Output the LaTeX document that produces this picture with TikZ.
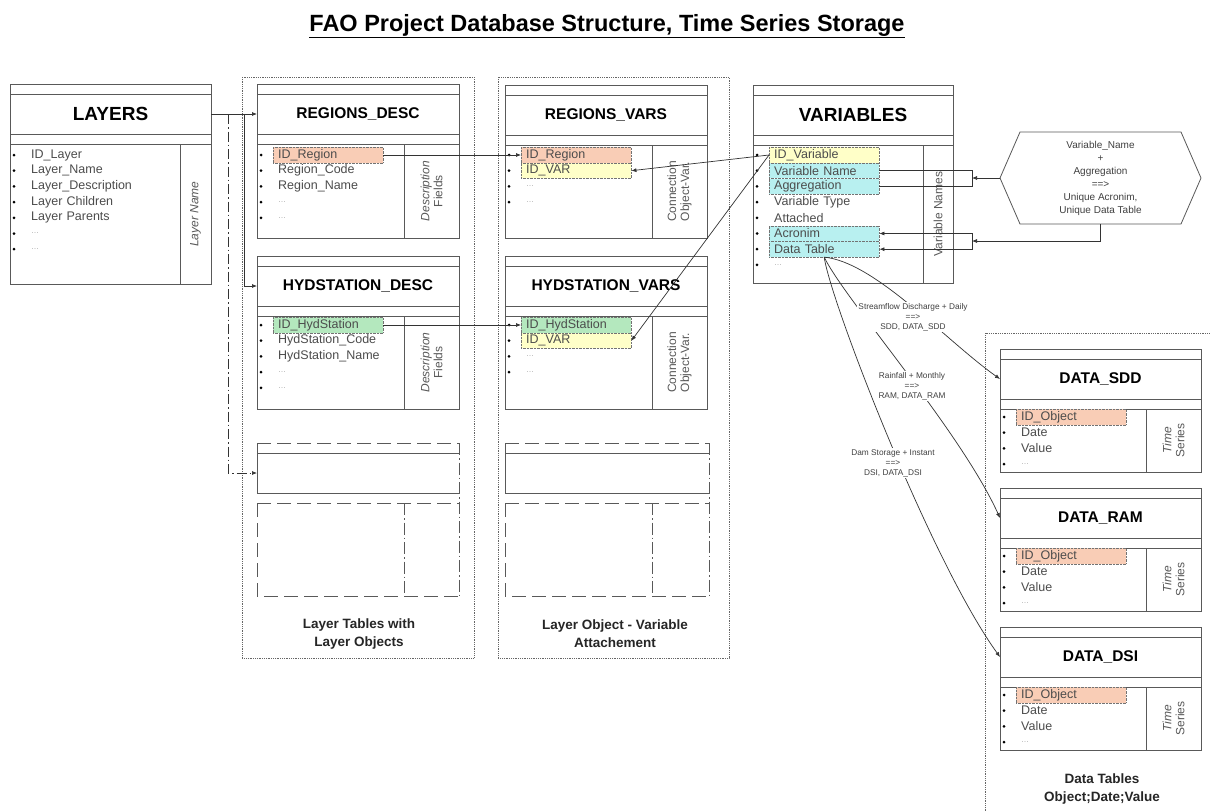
\documentclass[tikz,border=0pt]{standalone}
\usepackage{fontspec}
\setmainfont{Liberation Sans}
\usetikzlibrary{arrows.meta,shapes.symbols}

\definecolor{cred}{HTML}{F9CDB6}
\definecolor{cyel}{HTML}{FFFFC8}
\definecolor{cgrn}{HTML}{B4E8BE}
\definecolor{ccyan}{HTML}{B8F0F0}

\tikzset{
  tabline/.style={line width=1pt,draw=black!65},
  tabtitle/.style={font=\bfseries\fontsize{15.5}{18}\selectfont},
  bigtitle/.style={font=\bfseries\fontsize{19}{22}\selectfont},
  coltext/.style={rotate=90,align=center,text=black!65,font=\fontsize{12}{13}\selectfont},
  item/.style={anchor=west,inner xsep=5pt,inner ysep=0pt,text width=100pt,align=left,
    minimum height=15.5pt,text=black!70,font=\fontsize{12.5}{14}\selectfont},
  plain/.style={},
  dim/.style={text=black!35,font=\fontsize{8}{9}\selectfont},
  hl/.style={fill=#1,draw=black!55,densely dotted},
  hlred/.style={hl=cred},
  hlyel/.style={hl=cyel},
  hlgrn/.style={hl=cgrn},
  hlcyan/.style={hl=ccyan},
  arr/.style={-{Latex[length=5pt,width=4pt]},line width=0.7pt,draw=black!80},
  link/.style={line width=0.7pt,draw=black!80},
  groupbox/.style={densely dotted,line width=0.8pt,draw=black!60},
  longdash/.style={line width=1pt,draw=black!65,dash pattern=on 14pt off 6pt},
  dashdot/.style={line width=1pt,draw=black!65,dash pattern=on 12pt off 3pt on 1.5pt off 3pt},
  grouplab/.style={align=center,font=\bfseries\fontsize{13.5}{18}\selectfont,text=black!85},
  curvelab/.style={align=center,fill=white,inner sep=1pt,text=black!75,font=\fontsize{8.3}{10}\selectfont},
  hexbox/.style={shape=signal,signal to=west and east,signal pointer angle=133,draw=black!65,
    line width=0.8pt,minimum width=201pt,minimum height=92pt,inner sep=0pt,align=center,
    text=black!75,font=\fontsize{10}{13}\selectfont}
}

% table frame: [title style] name, left, top, right, bottom, divider, title, column text
\newcommand{\dbtable}[9][tabtitle]{%
  \draw[tabline] (#3,#4) rectangle (#5,#6);
  \draw[tabline] (#3,#4+10) -- (#5,#4+10) (#3,#4+50) -- (#5,#4+50)
    (#3,#4+60) -- (#5,#4+60) (#7,#4+60) -- (#7,#6);
  \node[#1] (#2) at ({(#3+#5)/2},#4+30) {#8};
  \node[coltext] (#2-col) at ({(#7+#5)/2},{(#4+60+#6)/2}) {#9};
  \coordinate (#2-w) at (#3,#4+30);
  \coordinate (#2-e) at (#5,#4+30);
}
% rows: name, left, first y, list of text/style
\newcommand{\tabrows}[4]{%
  \foreach \txt/\sty [count=\i] in {#4} {
    \fill[black] (#2+4,{#3+15.7*(\i-1)}) circle (1.5pt);
    \node[item,\sty] (#1-\i) at (#2+16,{#3+15.7*(\i-1)}) {\txt};
  }
}
% empty template table
\newcommand{\ghosttable}[3]{%
  \draw[longdash] (#1,443) -- (#2,443) (#1,503) -- (#2,503) (#1,443) -- (#1,453)
    (#1,503) -- (#1,596) -- (#2,596);
  \draw[tabline] (#1,453) -- (#2,453) (#1,493) -- (#2,493) (#1,453) -- (#1,493);
  \draw[dashdot] (#2,443) -- (#2,596) (#3,503) -- (#3,596);
}

\begin{document}
\begin{tikzpicture}[x=1pt,y=-1pt]
  \useasboundingbox[fill=white] (0,0) rectangle (1210,811);

  \node[font=\bfseries\fontsize{23.5}{26}\selectfont] (title) at (607,26)
    {\underline{FAO Project Database Structure, Time Series Storage}};

  % groups
  \draw[groupbox] (242,77) rectangle (474,658);
  \draw[groupbox] (498,77) rectangle (729,658);
  \draw[groupbox] (1215,333) -- (985,333) -- (985,815);
  \node[grouplab] (g1) at (359,634) {Layer Tables with\\Layer Objects};
  \node[grouplab] (g2) at (615,634) {Layer Object - Variable\\Attachement};
  \node[grouplab] (g3) at (1102,789) {Data Tables\\Object;Date;Value};

  % tables
  \dbtable[bigtitle]{ly}{10}{84}{211}{284}{180}{LAYERS}{\itshape Layer Name}
  \tabrows{ly}{10}{155}{ID\_Layer/plain, Layer\_Name/plain, Layer\_Description/plain,
    Layer Children/plain, Layer Parents/plain, \dots/dim, \dots/dim}

  \dbtable{rd}{257}{84}{459}{238}{404}{REGIONS\_DESC}{\itshape Description\\Fields}
  \tabrows{rd}{257}{155}{ID\_Region/hlred, Region\_Code/plain, Region\_Name/plain,
    \dots/dim, \dots/dim}

  \dbtable{hd}{257}{256}{459}{409}{404}{HYDSTATION\_DESC}{\itshape Description\\Fields}
  \tabrows{hd}{257}{325}{ID\_HydStation/hlgrn, HydStation\_Code/plain,
    HydStation\_Name/plain, \dots/dim, \dots/dim}

  \dbtable{rv}{505}{85}{707}{238}{652}{REGIONS\_VARS}{Connection\\Object-Var.}
  \tabrows{rv}{505}{155}{ID\_Region/hlred, ID\_VAR/hlyel, \dots/dim, \dots/dim}

  \dbtable{hv}{505}{256}{707}{409}{652}{HYDSTATION\_VARS}{Connection\\Object-Var.}
  \tabrows{hv}{505}{325}{ID\_HydStation/hlgrn, ID\_VAR/hlyel, \dots/dim, \dots/dim}

  \dbtable[bigtitle]{var}{753}{85}{953}{283}{923}{VARIABLES}{Variable Names}
  \tabrows{var}{753}{155}{ID\_Variable/hlyel, Variable Name/hlcyan, Aggregation/hlcyan,
    Variable Type/plain, Attached/plain, Acronim/hlcyan, Data Table/hlcyan, \dots/dim}

  \foreach \nm/\tp/\lab in {sdd/349/DATA\_SDD, ram/488/DATA\_RAM, dsi/627/DATA\_DSI} {
    \dbtable{\nm}{1000}{\tp}{1201}{\tp+123}{1146}{\lab}{\itshape Time\\Series}
    \tabrows{\nm}{1000}{\tp+68}{ID\_Object/hlred, Date/plain, Value/plain, \dots/dim}
  }

  \ghosttable{257}{459}{404}
  \ghosttable{505}{709}{652}
  \coordinate (nt-w) at (257,473);

  % layers to layer tables
  \coordinate (split) at (244,114);
  \coordinate (splitb) at (228,114);
  \draw[arr] (ly-e) -- (rd-w);
  \draw[arr] (split) |- (hd-w);
  \draw[arr,dash pattern=on 10pt off 3pt on 1.5pt off 3pt] (splitb) |- (nt-w);

  % object ids
  \draw[arr] (rd-1.east) -- (rv-1.west);
  \draw[arr] (hd-1.east) -- (hv-1.west);
  \draw[arr] (var-1.west) -- (rv-2.east);
  \draw[arr] (var-1.west) -- (hv-2.east);

  % acronym rule
  \node[hexbox] (hex) at (1100.5,178) {Variable\_Name\\+\\Aggregation\\==>\\Unique Acronim,\\Unique Data Table};
  \coordinate (b1) at (972,178);
  \coordinate (b2) at (972,241);
  \draw[link] (var-2.east) -| (b1) |- (var-3.east);
  \draw[arr] (hex.west) -- (b1);
  \draw[arr] (hex.south) |- (b2);
  \draw[arr] (b2) |- (var-6.east);
  \draw[arr] (b2) |- (var-7.east);

  % data tables
  \draw[arr] (var-7.south) .. controls (875,262) and (945,340) .. (sdd-w);
  \draw[arr] (var-7.south) .. controls (845,300) and (960,430) .. (ram-w);
  \draw[arr] (var-7.south) .. controls (830,300) and (930,560) .. (dsi-w);
  \node[curvelab] (lab-sdd) at (913,317) {Streamflow Discharge + Daily\\==>\\SDD, DATA\_SDD};
  \node[curvelab] (lab-ram) at (912,386) {Rainfall + Monthly\\==>\\RAM, DATA\_RAM};
  \node[curvelab] (lab-dsi) at (893,463) {Dam Storage + Instant\\==>\\DSI, DATA\_DSI};
\end{tikzpicture}
\end{document}
